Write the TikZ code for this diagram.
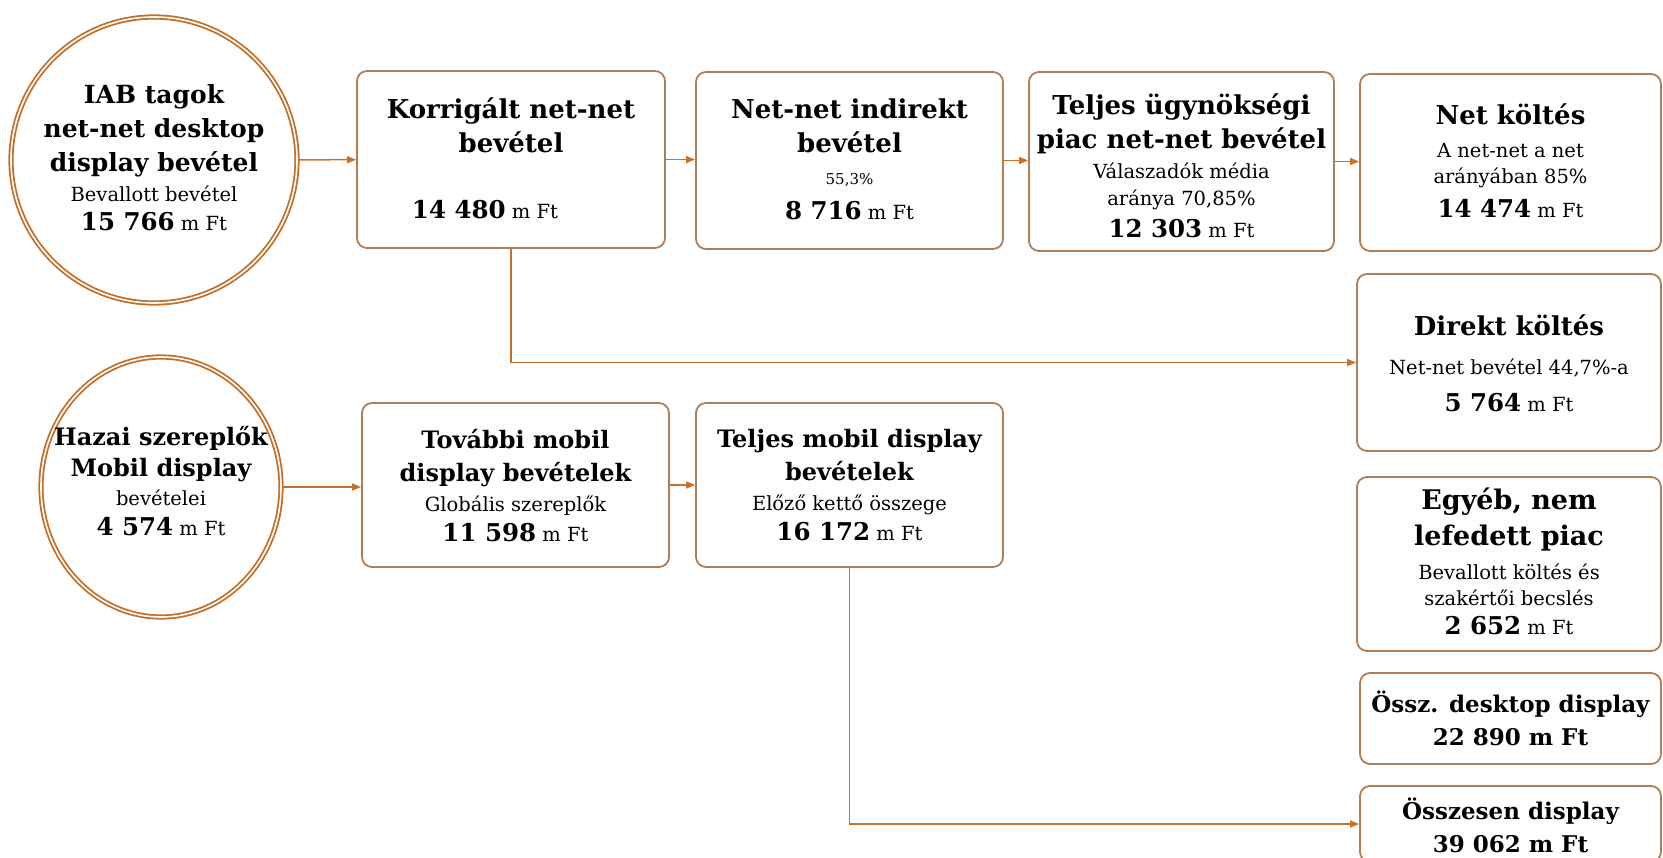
\documentclass[tikz,border=0pt]{standalone}
\usepackage{fontspec}
\setmainfont{DejaVu Serif}
\usetikzlibrary{arrows.meta,shapes.geometric}
\definecolor{boxc}{RGB}{176,126,86}
\definecolor{ringc}{RGB}{196,110,40}
\definecolor{arrc}{RGB}{204,112,40}
\newcommand\bigt[1]{{\fontsize{26}{26}\selectfont\bfseries #1}}
\newcommand\cirt[1]{{\fontsize{25}{25}\selectfont\bfseries #1}}
\newcommand\midt[1]{{\fontsize{24}{24}\selectfont\bfseries #1}}
\newcommand\numt[1]{{\fontsize{24.5}{24.5}\selectfont\bfseries #1}}
\newcommand\totl[1]{{\fontsize{23}{23}\selectfont\bfseries #1}}
\newcommand\smallt[1]{{\fontsize{15}{15}\selectfont #1}}
\tikzset{
  box/.style={draw=boxc, line width=1.8pt, rounded corners=10pt, inner sep=0pt},
  ring/.style={draw=ringc, line width=1.8pt, double=white, double distance=1.6pt, inner sep=0pt},
  txt/.style={align=center, inner sep=0pt, font=\fontsize{19.5}{30}\selectfont, text=black},
  conn/.style={draw=arrc, line width=1.5pt, -{Triangle[length=9pt,width=7pt]}},
}
\begin{document}
\begin{tikzpicture}[x=1pt,y=-1pt]
\useasboundingbox (0,0) rectangle (1663,858);
% circles
\node[ring, circle, minimum size=286pt] (c1) at (154,160) {};
\node[txt] (c1t) at ([yshift=2pt]c1.center) {\cirt{IAB tagok}\\[4pt]\cirt{net-net desktop}\\[4pt]\cirt{display bevétel}\\[0pt]Bevallott bevétel\\[-1pt]\numt{15 766} m Ft};
\node[ring, ellipse, minimum width=240pt, minimum height=260pt] (c2) at (161,487) {};
\node[txt] (c2t) at ([yshift=5.5pt]c2.center) {\midt{Hazai szereplők}\\[1pt]\midt{Mobil display}\\[-1pt]bevételei\\[0pt]\numt{4 574} m Ft};
% top row
\node[box, minimum width=308pt, minimum height=177pt] (korr) at (511,159.5) {};
\node[txt] (korrt) at ([yshift=1.5pt]korr.center) {\bigt{Korrigált net-net}\\[4pt]\bigt{bevétel}\\[36pt]\numt{14 480} m Ft\hspace*{52pt}};
\node[box, minimum width=307pt, minimum height=177pt] (netnet) at (849.5,160.5) {};
\node[txt] (netnett) at ([yshift=1.5pt]netnet.center) {\bigt{Net-net indirekt}\\[4pt]\bigt{bevétel}\\[2pt]\smallt{55,3\%}\\[5pt]\numt{8 716} m Ft};
\node[box, minimum width=305pt, minimum height=179pt] (teljes) at (1181.5,161.5) {};
\node[txt] (teljest) at ([yshift=-4pt]teljes.center) {\bigt{Teljes ügynökségi}\\[4pt]\bigt{piac net-net bevétel}\\[0pt]Válaszadók média\\[-3pt]aránya 70,85\%\\[2pt]\numt{12 303} m Ft};
\node[box, minimum width=301pt, minimum height=177pt] (netk) at (1510.5,162.5) {};
\node[txt] (netkt) at ([yshift=1.5pt]netk.center) {\bigt{Net költés}\\[3pt]A net-net a net\\[-4pt]arányában 85\%\\[4pt]\numt{14 474} m Ft};
% right column
\node[box, minimum width=304pt, minimum height=177pt] (direkt) at (1509,362.5) {};
\node[txt] (direktt) at ([yshift=-1pt]direkt.center) {\bigt{Direkt költés}\\[9pt]Net-net bevétel 44,7\%-a\\[7pt]\numt{5 764} m Ft};
\node[box, minimum width=304pt, minimum height=174pt] (egyeb) at (1509,564) {};
\node[txt] (egyebt) at ([yshift=3pt]egyeb.center) {{\fontsize{27}{27}\selectfont\bfseries Egyéb, nem}\\[6pt]{\fontsize{27}{27}\selectfont\bfseries lefedett piac}\\[4pt]Bevallott költés és\\[-4pt]szakértői becslés\\[-1pt]\numt{2 652} m Ft};
\node[box, minimum width=301pt, minimum height=91pt] (ossz) at (1510.5,718.5) {};
\node[txt] (osszt) at ([yshift=0pt]ossz.center) {\totl{Össz. desktop display}\\[3pt]\totl{22 890 m Ft}};
\node[box, minimum width=301pt, minimum height=76pt] (osszes) at (1510.5,824) {};
\node[txt] (osszest) at ([yshift=-1pt]osszes.center) {\totl{Összesen display}\\[3pt]\totl{39 062 m Ft}};
% bottom row
\node[box, minimum width=307pt, minimum height=164pt] (tovabbi) at (515.5,485) {};
\node[txt] (tovabbit) at ([yshift=-0.5pt]tovabbi.center) {\midt{További mobil}\\[3pt]\midt{display bevételek}\\[0pt]Globális szereplők\\[0pt]\numt{11 598} m Ft};
\node[box, minimum width=307pt, minimum height=164pt] (tmob) at (849.5,485) {};
\node[txt] (tmobt) at ([yshift=-0.5pt]tmob.center) {\midt{Teljes mobil display}\\[3pt]\midt{bevételek}\\[0pt]Előző kettő összege\\[0pt]\numt{16 172} m Ft};
% connectors
\draw[conn] (c1) -- (korr);
\draw[conn] (korr.east) -- (korr.east -| netnet.west);
\draw[conn] (netnet.east) -- (netnet.east -| teljes.west);
\draw[conn] (teljes.east) -- (teljes.east -| netk.west);
\draw[conn] (korr.south) |- (direkt.west);
\draw[conn] (c2.east) -- (c2.east -| tovabbi.west);
\draw[conn] (tovabbi.east) -- (tovabbi.east -| tmob.west);
\draw[conn] (tmob.south) |- (osszes.west);
\end{tikzpicture}
\end{document}
